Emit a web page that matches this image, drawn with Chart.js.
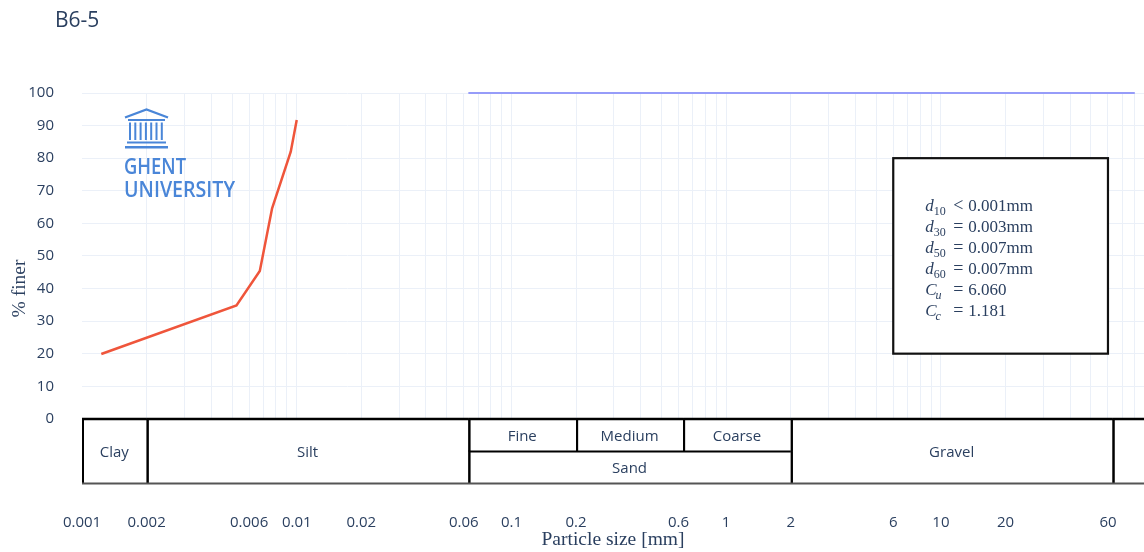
<!DOCTYPE html>
<html><head><meta charset="utf-8">
<script src="https://cdn.jsdelivr.net/npm/chart.js@4.4.1/dist/chart.umd.min.js"></script>
<style>html,body{margin:0;padding:0;background:#fff;}canvas{display:block;}</style>
</head><body>
<canvas id="c" width="1144" height="552"></canvas>
<script>
// ---------- data ----------
const chartTitle = 'B6-5';
const hydroSize  = [0.00123, 0.00524, 0.00673, 0.00768, 0.00938, 0.0100];
const hydroFiner = [19.9, 34.8, 45.4, 64.6, 82.0, 91.7];
const sieveSize  = [0.063, 80];
const sieveFiner = [100, 100];
const xTickLabels = [0.001, 0.002, 0.006, 0.01, 0.02, 0.06, 0.1, 0.2, 0.6, 1, 2, 6, 10, 20, 60];
const yTickValues = [0, 10, 20, 30, 40, 50, 60, 70, 80, 90, 100];
const classNames = ['Clay', 'Silt', 'Fine', 'Medium', 'Coarse', 'Sand', 'Gravel', ''];
const classFrom  = [0.001, 0.002, 0.063, 0.2, 0.63, 0.063, 2, 63];
const classTo    = [0.002, 0.063, 0.2, 0.63, 2, 2, 63, 88.3];
const classRow   = ['full', 'full', 'top', 'top', 'top', 'bottom', 'full', 'full'];
const statSymbols   = ['d', 'd', 'd', 'd', 'C', 'C'];
const statSubs      = ['10', '30', '50', '60', 'u', 'c'];
const statRelations = ['<', '=', '=', '=', '=', '='];
const statValues    = ['0.001mm', '0.003mm', '0.007mm', '0.007mm', '6.060', '1.181'];
const xMin = 0.001, xMax = 88.3;

// grid values: 1..9 x 10^e
const xGridValues = [];
for (let e = -3; e <= 1; e++) {
  for (let m = 1; m <= 9; m++) {
    const v = parseFloat((m * Math.pow(10, e)).toFixed(Math.max(0, -e)));
    if (v >= xMin && v <= xMax) xGridValues.push(v);
  }
}

const TXT = '#2a3f5f';
const GRID = '#EBF0F8';
const SANS = '"Open Sans", sans-serif';
const SERIF = '"Liberation Serif", "DejaVu Serif", serif';

const decor = {
  id: 'decor',
  afterDatasetsDraw(chart) {
    const {ctx, chartArea: a, scales: {x, y}} = chart;
    const yTop = y.getPixelForValue(0), yMid = y.getPixelForValue(-10), yBot = y.getPixelForValue(-20);
    ctx.save();
    // ---- classification table ----
    ctx.fillStyle = '#fff';
    ctx.fillRect(a.left, yTop, a.right - a.left, yBot - yTop);
    ctx.strokeStyle = '#000';
    ctx.lineWidth = 2;
    ctx.font = '15px ' + SANS;
    ctx.textAlign = 'center';
    ctx.textBaseline = 'middle';
    for (let i = 0; i < classNames.length; i++) {
      const x0 = x.getPixelForValue(classFrom[i]);
      const x1 = Math.min(x.getPixelForValue(classTo[i]), a.right);
      let y0 = yTop, y1 = yBot;
      if (classRow[i] === 'top') y1 = yMid;
      if (classRow[i] === 'bottom') y0 = yMid;
      ctx.strokeStyle = '#000';
      ctx.beginPath();
      ctx.moveTo(x0 + 1, y0); ctx.lineTo(x0 + 1, y1);
      ctx.moveTo(x0, y0); ctx.lineTo(x1, y0);
      ctx.stroke();
      if (x1 < a.right - 1) {
        ctx.beginPath(); ctx.moveTo(x1 + 1, y0); ctx.lineTo(x1 + 1, y1); ctx.stroke();
      }
      ctx.fillStyle = TXT;
      ctx.fillText(classNames[i], (x0 + x1) / 2, (y0 + y1) / 2 + 1.5);
    }
    ctx.strokeStyle = '#000';
    ctx.beginPath(); ctx.moveTo(a.left, yTop + 0.5); ctx.lineTo(a.right, yTop + 0.5); ctx.stroke();
    ctx.strokeStyle = '#555';
    ctx.beginPath(); ctx.moveTo(a.left, yBot - 0.5); ctx.lineTo(a.right, yBot - 0.5); ctx.stroke();

    // ---- stats box ----
    const bx0 = x.getPixelForValue(6), bx1 = x.getPixelForValue(60);
    const by0 = y.getPixelForValue(80), by1 = y.getPixelForValue(20);
    ctx.fillStyle = '#fff';
    ctx.fillRect(bx0, by0, bx1 - bx0, by1 - by0);
    ctx.strokeStyle = '#111';
    ctx.lineWidth = 2.2;
    ctx.strokeRect(bx0, by0, bx1 - bx0, by1 - by0);
    ctx.fillStyle = TXT;
    ctx.textAlign = 'left';
    ctx.textBaseline = 'alphabetic';
    const lx = bx0 + 32;
    for (let i = 0; i < statSymbols.length; i++) {
      const base = by0 + 53 + i * 21;
      ctx.font = 'italic 17px ' + SERIF;
      ctx.fillText(statSymbols[i], lx, base);
      const w = ctx.measureText(statSymbols[i]).width;
      const isNum = /^[0-9]+$/.test(statSubs[i]);
      ctx.font = (isNum ? '' : 'italic ') + '12px ' + SERIF;
      ctx.fillText(statSubs[i], lx + w + (isNum ? 0 : -1), base + 3.5);
      ctx.font = '18px ' + SERIF;
      ctx.textAlign = 'center';
      ctx.fillText(statRelations[i], lx + 33, base);
      ctx.font = '17px ' + SERIF;
      ctx.textAlign = 'left';
      ctx.fillText(statValues[i], lx + 43, base);
    }

    // ---- logo ----
    const ox = a.left, oy = a.top;
    const blue = '#4a86d8';
    ctx.strokeStyle = blue; ctx.fillStyle = blue;
    ctx.lineWidth = 2.4; ctx.lineJoin = 'miter';
    ctx.beginPath();
    ctx.moveTo(ox + 43, oy + 24.5); ctx.lineTo(ox + 64.5, oy + 16.5); ctx.lineTo(ox + 86, oy + 24.5);
    ctx.stroke();
    ctx.fillRect(ox + 46, oy + 26, 37, 2);
    for (let k = 0; k < 7; k++) ctx.fillRect(ox + 47 + k * 5.3, oy + 29.5, 2, 17.5);
    ctx.fillRect(ox + 45, oy + 48.5, 39, 2);
    ctx.fillRect(ox + 43, oy + 53, 43, 2.5);
    ctx.font = '600 21px ' + SANS;
    ctx.textBaseline = 'alphabetic';
    const drawCond = (t, px, py, tw) => {
      const mw = ctx.measureText(t).width;
      ctx.save(); ctx.translate(px, py); ctx.scale(tw / mw, 1); ctx.fillText(t, 0, 0); ctx.restore();
    };
    drawCond('GHENT', ox + 42, oy + 81, 62);
    drawCond('UNIVERSITY', ox + 42, oy + 103.5, 111);

    // ---- title ----
    ctx.fillStyle = TXT;
    ctx.font = '21px ' + SANS;
    ctx.textAlign = 'left';
    ctx.textBaseline = 'middle';
    ctx.fillText(chartTitle, 55, 21);
    ctx.restore();
  }
};

new Chart(document.getElementById('c'), {
  type: 'line',
  data: {
    datasets: [
      {
        data: hydroSize.map((v, i) => ({x: v, y: hydroFiner[i]})),
        borderColor: '#EF553B', borderWidth: 2.5, pointRadius: 0, tension: 0, fill: false
      },
      {
        data: sieveSize.map((v, i) => ({x: v, y: sieveFiner[i]})),
        borderColor: '#969cf9', borderWidth: 2.2, pointRadius: 0, tension: 0, fill: false, clip: false
      }
    ]
  },
  options: {
    responsive: false,
    animation: false,
    devicePixelRatio: 1,
    layout: {padding: {top: 93, left: 0, right: 0, bottom: 0}},
    plugins: {legend: {display: false}, tooltip: {enabled: false}, title: {display: false}},
    scales: {
      x: {
        type: 'logarithmic',
        min: xMin, max: xMax,
        afterFit: s => { s.height = 68; s.paddingLeft = 0; s.paddingRight = 0; },
        afterBuildTicks: s => { s.ticks = xGridValues.map(v => ({value: v})); },
        border: {display: false},
        grid: {
          drawTicks: false, lineWidth: 1,
          color: c => (c.tick && (c.tick.value <= xMin * 1.0001 || c.tick.value >= xMax * 0.9999)) ? 'rgba(0,0,0,0)' : GRID
        },
        ticks: {
          autoSkip: false, maxRotation: 0, minRotation: 0, padding: 30,
          color: TXT, font: {family: SANS, size: 15},
          callback: v => {
            const m = xTickLabels.find(t => Math.abs(t - v) / t < 1e-6);
            return m === undefined ? '' : String(m);
          }
        },
        title: {display: true, text: 'Particle size [mm]', color: TXT,
                font: {family: SERIF, size: 19.5}, padding: {top: 0, bottom: 0}}
      },
      y: {
        type: 'linear',
        min: -20, max: 100,
        afterFit: s => { s.width = 82; s.paddingTop = 0; s.paddingBottom = 0; },
        afterBuildTicks: s => { s.ticks = yTickValues.map(v => ({value: v})); },
        border: {display: false},
        grid: {drawTicks: false, color: GRID, lineWidth: 1},
        ticks: {padding: 28, color: TXT, font: {family: SANS, size: 15}},
        title: {display: true, text: '% finer', color: TXT,
                font: {family: SERIF, size: 19.5}, padding: {top: 8, bottom: 0}}
      }
    }
  },
  plugins: [decor]
});
</script>
</body></html>
